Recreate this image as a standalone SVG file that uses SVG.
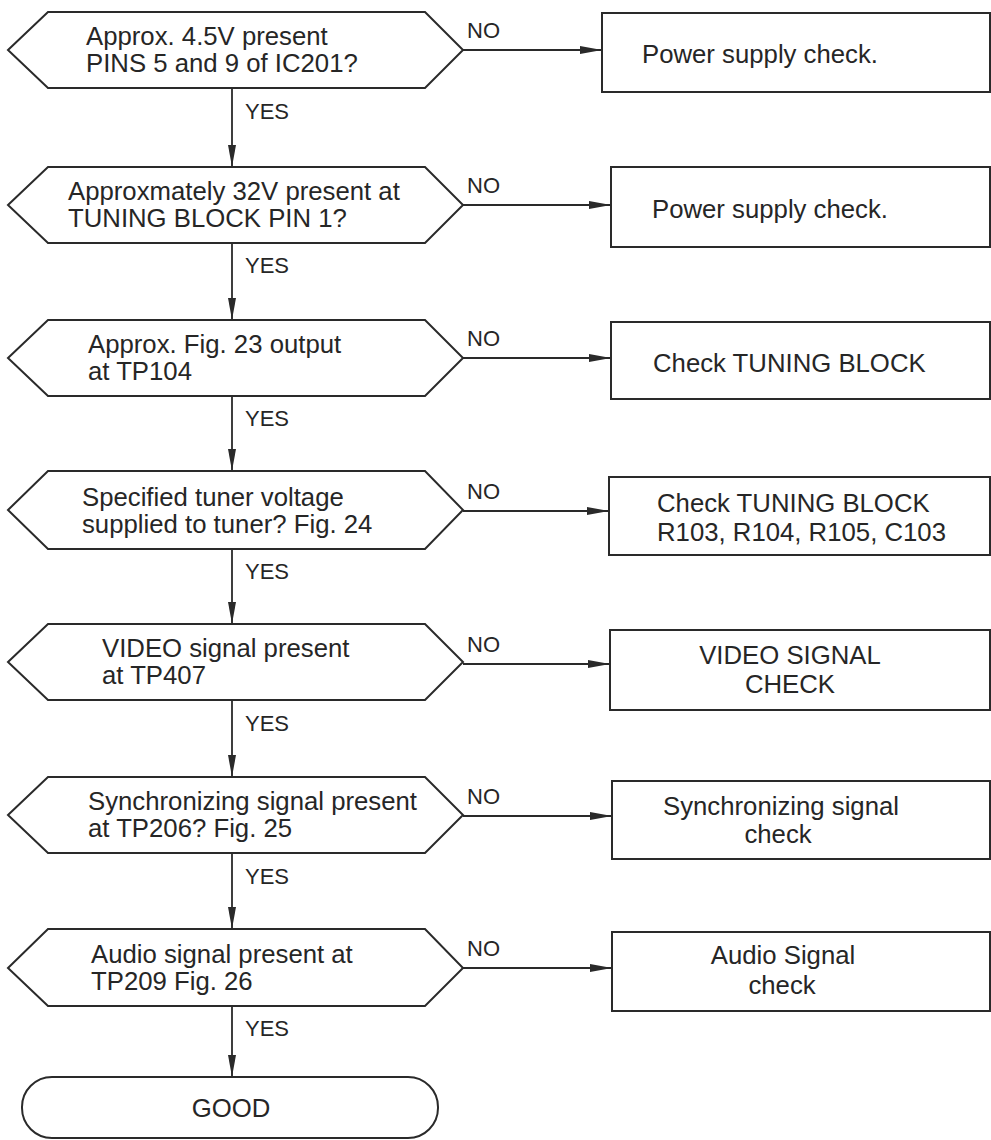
<svg xmlns="http://www.w3.org/2000/svg" width="991" height="1140" viewBox="0 0 991 1140">
<defs>
<style>
.shape{fill:#fff;stroke:#2a2a2a;stroke-width:2;stroke-linejoin:miter}
.line{fill:none;stroke:#2a2a2a;stroke-width:1.8}
.t{font-family:"Liberation Sans",Arial,sans-serif;font-size:25px;fill:#262626}
.lbl{font-family:"Liberation Sans",Arial,sans-serif;font-size:22px;fill:#262626}
</style>
<marker id="ah" viewBox="0 0 22 8" refX="22" refY="4" markerWidth="22" markerHeight="8" markerUnits="userSpaceOnUse" orient="auto">
<path d="M0,0 L22,4 L0,8 z" fill="#2a2a2a"/>
</marker>
</defs>
<rect width="991" height="1140" fill="#fff"/>

<g id="connectors">
<line class="line" x1="463" y1="50" x2="602" y2="50" marker-end="url(#ah)"/>
<line class="line" x1="463" y1="205" x2="611" y2="205" marker-end="url(#ah)"/>
<line class="line" x1="463" y1="358" x2="611" y2="358" marker-end="url(#ah)"/>
<line class="line" x1="463" y1="511" x2="609" y2="511" marker-end="url(#ah)"/>
<line class="line" x1="463" y1="664" x2="610" y2="664" marker-end="url(#ah)"/>
<line class="line" x1="463" y1="816" x2="612" y2="816" marker-end="url(#ah)"/>
<line class="line" x1="463" y1="968" x2="612" y2="968" marker-end="url(#ah)"/>
<line class="line" x1="232" y1="88" x2="232" y2="167" marker-end="url(#ah)"/>
<line class="line" x1="232" y1="243" x2="232" y2="320" marker-end="url(#ah)"/>
<line class="line" x1="232" y1="396" x2="232" y2="471" marker-end="url(#ah)"/>
<line class="line" x1="232" y1="549" x2="232" y2="624" marker-end="url(#ah)"/>
<line class="line" x1="232" y1="700" x2="232" y2="777" marker-end="url(#ah)"/>
<line class="line" x1="232" y1="853" x2="232" y2="929" marker-end="url(#ah)"/>
<line class="line" x1="232" y1="1006" x2="232" y2="1077" marker-end="url(#ah)"/>
<text class="lbl" x="467" y="38">NO</text>
<text class="lbl" x="467" y="193">NO</text>
<text class="lbl" x="467" y="346">NO</text>
<text class="lbl" x="467" y="499">NO</text>
<text class="lbl" x="467" y="652">NO</text>
<text class="lbl" x="467" y="804">NO</text>
<text class="lbl" x="467" y="956">NO</text>
<text class="lbl" x="245" y="119">YES</text>
<text class="lbl" x="245" y="273">YES</text>
<text class="lbl" x="245" y="426">YES</text>
<text class="lbl" x="245" y="579">YES</text>
<text class="lbl" x="245" y="731">YES</text>
<text class="lbl" x="245" y="884">YES</text>
<text class="lbl" x="245" y="1036">YES</text>
</g>

<g id="q1">
<path class="shape" d="M8,50 L48,12 L425,12 L463,50 L425,88 L48,88 Z"/>
<text class="t" transform="translate(86 45) scale(1.03 1)">Approx. 4.5V present</text>
<text class="t" transform="translate(86 72) scale(1.03 1)">PINS 5 and 9 of IC201?</text>
</g>
<g id="q2">
<path class="shape" d="M8,205 L48,167 L425,167 L463,205 L425,243 L48,243 Z"/>
<text class="t" transform="translate(68 200) scale(1.03 1)">Approxmately 32V present at</text>
<text class="t" transform="translate(68 227) scale(1.03 1)">TUNING BLOCK PIN 1?</text>
</g>
<g id="q3">
<path class="shape" d="M8,358 L48,320 L425,320 L463,358 L425,396 L48,396 Z"/>
<text class="t" transform="translate(88 353) scale(1.03 1)">Approx. Fig. 23 output</text>
<text class="t" transform="translate(88 380) scale(1.03 1)">at TP104</text>
</g>
<g id="q4">
<path class="shape" d="M8,510 L48,471 L425,471 L463,510 L425,549 L48,549 Z"/>
<text class="t" transform="translate(82 506) scale(1.03 1)">Specified tuner voltage</text>
<text class="t" transform="translate(82 533) scale(1.03 1)">supplied to tuner? Fig. 24</text>
</g>
<g id="q5">
<path class="shape" d="M8,662 L48,624 L425,624 L463,662 L425,700 L48,700 Z"/>
<text class="t" transform="translate(102 657) scale(1.03 1)">VIDEO signal present</text>
<text class="t" transform="translate(102 684) scale(1.03 1)">at TP407</text>
</g>
<g id="q6">
<path class="shape" d="M8,815 L48,777 L425,777 L463,815 L425,853 L48,853 Z"/>
<text class="t" transform="translate(88 810) scale(1.03 1)">Synchronizing signal present</text>
<text class="t" transform="translate(88 837) scale(1.03 1)">at TP206? Fig. 25</text>
</g>
<g id="q7">
<path class="shape" d="M8,968 L48,929 L425,929 L463,968 L425,1006 L48,1006 Z"/>
<text class="t" transform="translate(91 963) scale(1.03 1)">Audio signal present at</text>
<text class="t" transform="translate(91 990) scale(1.03 1)">TP209 Fig. 26</text>
</g>

<g id="a1">
<rect class="shape" x="602" y="13" width="388" height="79"/>
<text class="t" transform="translate(642 63) scale(1.03 1)">Power supply check.</text>
</g>
<g id="a2">
<rect class="shape" x="611" y="167" width="379" height="80"/>
<text class="t" transform="translate(652 218) scale(1.03 1)">Power supply check.</text>
</g>
<g id="a3">
<rect class="shape" x="611" y="322" width="379" height="77"/>
<text class="t" transform="translate(653 372) scale(1.03 1)">Check TUNING BLOCK</text>
</g>
<g id="a4">
<rect class="shape" x="609" y="477" width="381" height="78"/>
<text class="t" transform="translate(657 512) scale(1.03 1)">Check TUNING BLOCK</text>
<text class="t" transform="translate(657 541) scale(1.03 1)">R103, R104, R105, C103</text>
</g>
<g id="a5">
<rect class="shape" x="610" y="630" width="380" height="80"/>
<text class="t" text-anchor="middle" transform="translate(790 664) scale(1.03 1)">VIDEO SIGNAL</text>
<text class="t" text-anchor="middle" transform="translate(790 693) scale(1.03 1)">CHECK</text>
</g>
<g id="a6">
<rect class="shape" x="612" y="781" width="378" height="78"/>
<text class="t" text-anchor="middle" transform="translate(781 815) scale(1.03 1)">Synchronizing signal</text>
<text class="t" text-anchor="middle" transform="translate(778 843) scale(1.03 1)">check</text>
</g>
<g id="a7">
<rect class="shape" x="612" y="932" width="378" height="79"/>
<text class="t" text-anchor="middle" transform="translate(783 964) scale(1.03 1)">Audio Signal</text>
<text class="t" text-anchor="middle" transform="translate(782 994) scale(1.03 1)">check</text>
</g>

<g id="good">
<rect class="shape" x="22" y="1077" width="416" height="61" rx="30" ry="30"/>
<text class="t" text-anchor="middle" transform="translate(231 1117) scale(1.03 1)">GOOD</text>
</g>
</svg>
